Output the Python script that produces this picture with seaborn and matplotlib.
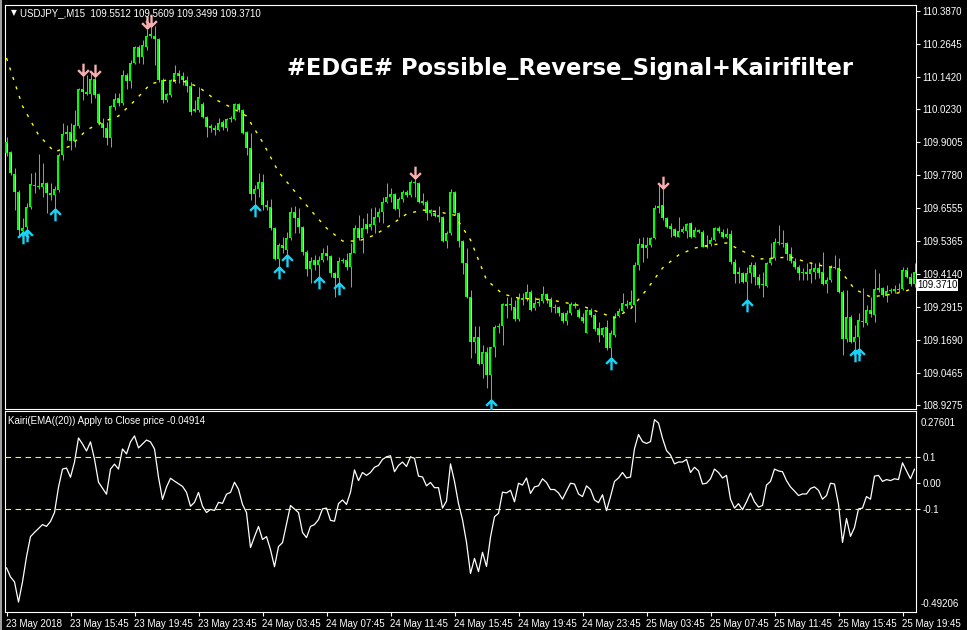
import matplotlib
matplotlib.use('Agg')
import matplotlib.pyplot as plt
from matplotlib.path import Path
from matplotlib.patches import Rectangle
import numpy as np
import pandas as pd
import seaborn as sb

sb.set_style('dark')
plt.rcParams['font.family'] = ['Liberation Sans', 'DejaVu Sans']
plt.rcParams['patch.force_edgecolor'] = False

# USDJPY M15 candles, 23 May 11:45 -> 25 May 20:30
opens = [109.902, 109.865, 109.783, 109.717, 109.572, 109.587, 109.661, 109.739, 109.735, 109.735,
         109.750, 109.713, 109.706, 109.724, 109.854, 109.931, 109.939, 109.905, 109.961, 110.098,
         110.080, 110.080, 110.135, 110.080, 109.972, 109.954, 109.917, 110.031, 110.065, 110.046,
         110.150, 110.128, 110.194, 110.254, 110.217, 110.254, 110.294, 110.294, 110.283, 110.131,
         110.057, 110.076, 110.124, 110.157, 110.146, 110.131, 110.109, 110.017, 110.020, 110.043,
         109.994, 109.961, 109.946, 109.946, 109.976, 109.954, 109.987, 109.987, 110.043, 110.020,
         109.939, 109.880, 109.709, 109.728, 109.754, 109.668, 109.661, 109.583, 109.468, 109.520,
         109.502, 109.546, 109.643, 109.620, 109.587, 109.494, 109.431, 109.465, 109.446, 109.465,
         109.491, 109.480, 109.417, 109.398, 109.461, 109.465, 109.439, 109.491, 109.583, 109.546,
         109.598, 109.587, 109.594, 109.624, 109.643, 109.680, 109.698, 109.709, 109.654, 109.691,
         109.717, 109.706, 109.750, 109.750, 109.683, 109.680, 109.639, 109.639, 109.631, 109.624,
         109.535, 109.565, 109.717, 109.639, 109.535, 109.454, 109.328, 109.161, 109.180, 109.080,
         109.124, 109.039, 109.143, 109.217, 109.220, 109.302, 109.298, 109.291, 109.246, 109.324,
         109.320, 109.346, 109.287, 109.306, 109.313, 109.339, 109.320, 109.291, 109.291, 109.269,
         109.239, 109.269, 109.302, 109.280, 109.254, 109.194, 109.280, 109.261, 109.213, 109.187,
         109.217, 109.139, 109.187, 109.257, 109.276, 109.302, 109.298, 109.298, 109.446, 109.524,
         109.509, 109.520, 109.546, 109.657, 109.668, 109.620, 109.591, 109.580, 109.550, 109.568,
         109.572, 109.602, 109.550, 109.576, 109.568, 109.513, 109.524, 109.539, 109.583, 109.568,
         109.550, 109.561, 109.457, 109.413, 109.417, 109.383, 109.417, 109.446, 109.402, 109.372,
         109.369, 109.454, 109.472, 109.531, 109.528, 109.528, 109.487, 109.461, 109.439, 109.417,
         109.420, 109.413, 109.420, 109.435, 109.420, 109.376, 109.391, 109.439, 109.435, 109.346,
         109.172, 109.254, 109.161, 109.180, 109.239, 109.232, 109.280, 109.261, 109.354, 109.361,
         109.332, 109.350, 109.350, 109.354, 109.357, 109.428, 109.402, 109.376]
highs = [109.920, 109.868, 109.806, 109.724, 109.620, 109.676, 109.787, 109.791, 109.857, 109.824,
         109.754, 109.750, 109.739, 109.861, 109.972, 109.965, 109.972, 110.020, 110.102, 110.150,
         110.150, 110.161, 110.146, 110.083, 109.991, 109.976, 110.039, 110.083, 110.083, 110.168,
         110.157, 110.206, 110.257, 110.261, 110.280, 110.324, 110.331, 110.331, 110.287, 110.139,
         110.083, 110.135, 110.187, 110.168, 110.161, 110.146, 110.124, 110.057, 110.106, 110.050,
         109.998, 109.968, 109.965, 109.991, 109.983, 109.991, 109.998, 110.046, 110.046, 110.024,
         109.943, 109.935, 109.743, 109.787, 109.783, 109.687, 109.691, 109.587, 109.528, 109.550,
         109.568, 109.661, 109.665, 109.657, 109.591, 109.502, 109.476, 109.483, 109.480, 109.509,
         109.520, 109.483, 109.420, 109.476, 109.472, 109.491, 109.528, 109.594, 109.631, 109.620,
         109.639, 109.657, 109.661, 109.657, 109.698, 109.750, 109.732, 109.713, 109.698, 109.724,
         109.724, 109.761, 109.769, 109.754, 109.713, 109.687, 109.654, 109.650, 109.665, 109.628,
         109.572, 109.728, 109.720, 109.643, 109.539, 109.509, 109.354, 109.220, 109.220, 109.150,
         109.143, 109.143, 109.224, 109.231, 109.306, 109.328, 109.328, 109.317, 109.343, 109.343,
         109.376, 109.354, 109.328, 109.324, 109.369, 109.343, 109.328, 109.302, 109.294, 109.272,
         109.280, 109.309, 109.309, 109.287, 109.269, 109.283, 109.287, 109.269, 109.235, 109.217,
         109.243, 109.206, 109.269, 109.287, 109.343, 109.317, 109.354, 109.457, 109.546, 109.550,
         109.550, 109.550, 109.668, 109.746, 109.732, 109.624, 109.602, 109.583, 109.624, 109.591,
         109.602, 109.606, 109.587, 109.580, 109.576, 109.557, 109.550, 109.587, 109.591, 109.580,
         109.583, 109.576, 109.468, 109.439, 109.420, 109.439, 109.457, 109.457, 109.413, 109.420,
         109.457, 109.528, 109.546, 109.594, 109.576, 109.531, 109.513, 109.472, 109.446, 109.435,
         109.454, 109.457, 109.454, 109.457, 109.494, 109.402, 109.446, 109.483, 109.472, 109.354,
         109.354, 109.261, 109.224, 109.269, 109.361, 109.298, 109.328, 109.431, 109.417, 109.365,
         109.372, 109.361, 109.372, 109.380, 109.439, 109.439, 109.417, 109.454]
lows = [109.850, 109.780, 109.650, 109.554, 109.568, 109.576, 109.654, 109.713, 109.728, 109.698,
        109.639, 109.687, 109.654, 109.717, 109.835, 109.909, 109.872, 109.883, 109.954, 110.057,
        110.076, 110.046, 110.065, 109.965, 109.920, 109.891, 109.883, 110.020, 110.035, 110.039,
        110.098, 110.102, 110.191, 110.194, 110.191, 110.243, 110.287, 110.187, 110.124, 110.046,
        110.050, 110.068, 110.120, 110.120, 110.113, 110.087, 110.002, 110.013, 110.013, 109.991,
        109.920, 109.939, 109.928, 109.943, 109.946, 109.943, 109.976, 109.983, 110.013, 109.931,
        109.854, 109.687, 109.668, 109.698, 109.650, 109.650, 109.576, 109.465, 109.439, 109.491,
        109.483, 109.539, 109.565, 109.565, 109.483, 109.406, 109.380, 109.428, 109.402, 109.457,
        109.465, 109.402, 109.328, 109.380, 109.454, 109.428, 109.365, 109.491, 109.539, 109.491,
        109.565, 109.576, 109.565, 109.606, 109.602, 109.676, 109.680, 109.650, 109.624, 109.680,
        109.698, 109.698, 109.698, 109.676, 109.668, 109.613, 109.628, 109.624, 109.606, 109.531,
        109.509, 109.557, 109.631, 109.513, 109.413, 109.324, 109.102, 109.120, 109.076, 109.028,
        108.991, 108.946, 109.106, 109.194, 109.150, 109.250, 109.280, 109.239, 109.239, 109.298,
        109.313, 109.276, 109.280, 109.294, 109.306, 109.306, 109.272, 109.269, 109.257, 109.232,
        109.224, 109.261, 109.287, 109.250, 109.232, 109.194, 109.254, 109.202, 109.161, 109.180,
        109.131, 109.102, 109.180, 109.254, 109.272, 109.287, 109.291, 109.235, 109.428, 109.457,
        109.472, 109.513, 109.543, 109.639, 109.613, 109.583, 109.550, 109.550, 109.550, 109.565,
        109.546, 109.546, 109.550, 109.565, 109.513, 109.509, 109.517, 109.535, 109.565, 109.546,
        109.546, 109.450, 109.380, 109.380, 109.380, 109.317, 109.380, 109.372, 109.361, 109.328,
        109.365, 109.446, 109.465, 109.520, 109.513, 109.465, 109.454, 109.431, 109.391, 109.391,
        109.391, 109.380, 109.394, 109.398, 109.372, 109.343, 109.383, 109.431, 109.343, 109.113,
        109.161, 109.157, 109.131, 109.135, 109.217, 109.224, 109.254, 109.235, 109.346, 109.328,
        109.309, 109.343, 109.343, 109.346, 109.354, 109.398, 109.369, 109.365]
closes = [109.861, 109.787, 109.717, 109.576, 109.583, 109.661, 109.746, 109.743, 109.735, 109.750,
          109.713, 109.706, 109.728, 109.854, 109.931, 109.939, 109.905, 109.965, 110.098, 110.087,
          110.087, 110.135, 110.076, 109.972, 109.954, 109.917, 110.035, 110.061, 110.046, 110.150,
          110.128, 110.194, 110.254, 110.217, 110.261, 110.294, 110.302, 110.283, 110.131, 110.057,
          110.080, 110.131, 110.157, 110.146, 110.131, 110.109, 110.013, 110.024, 110.068, 109.994,
          109.957, 109.954, 109.954, 109.972, 109.957, 109.987, 109.987, 110.043, 110.020, 109.935,
          109.880, 109.709, 109.728, 109.754, 109.668, 109.661, 109.583, 109.468, 109.520, 109.509,
          109.546, 109.643, 109.620, 109.587, 109.494, 109.431, 109.461, 109.446, 109.465, 109.491,
          109.480, 109.417, 109.398, 109.461, 109.465, 109.439, 109.491, 109.583, 109.546, 109.583,
          109.580, 109.598, 109.624, 109.643, 109.680, 109.698, 109.709, 109.654, 109.691, 109.717,
          109.706, 109.754, 109.754, 109.680, 109.676, 109.639, 109.650, 109.628, 109.624, 109.535,
          109.565, 109.717, 109.639, 109.535, 109.454, 109.328, 109.161, 109.180, 109.080, 109.124,
          109.039, 109.143, 109.217, 109.220, 109.302, 109.294, 109.298, 109.246, 109.324, 109.317,
          109.346, 109.280, 109.306, 109.309, 109.339, 109.320, 109.291, 109.287, 109.269, 109.239,
          109.269, 109.302, 109.294, 109.254, 109.239, 109.280, 109.261, 109.209, 109.187, 109.213,
          109.139, 109.194, 109.257, 109.276, 109.306, 109.294, 109.309, 109.446, 109.524, 109.509,
          109.520, 109.546, 109.657, 109.665, 109.620, 109.587, 109.580, 109.554, 109.572, 109.580,
          109.598, 109.550, 109.576, 109.568, 109.513, 109.520, 109.539, 109.583, 109.572, 109.550,
          109.561, 109.457, 109.413, 109.420, 109.383, 109.417, 109.446, 109.402, 109.372, 109.372,
          109.454, 109.472, 109.531, 109.528, 109.524, 109.487, 109.461, 109.439, 109.417, 109.420,
          109.413, 109.431, 109.435, 109.417, 109.376, 109.391, 109.439, 109.435, 109.346, 109.172,
          109.254, 109.161, 109.180, 109.243, 109.235, 109.280, 109.265, 109.357, 109.361, 109.335,
          109.350, 109.350, 109.357, 109.357, 109.428, 109.402, 109.376, 109.420]

# EMA(20), read every 4th bar
ema_idx = list(range(0, 225, 4)) + [227]
ema_vals = [110.213, 110.035, 109.928, 109.865, 109.887, 109.946, 109.976, 109.998, 110.054, 110.117,
            110.131, 110.128, 110.106, 110.061, 110.031, 109.998, 109.902, 109.791, 109.720, 109.650,
            109.583, 109.535, 109.535, 109.557, 109.594, 109.635, 109.650, 109.643, 109.631, 109.539,
            109.391, 109.339, 109.324, 109.320, 109.317, 109.306, 109.294, 109.272, 109.250, 109.283,
            109.354, 109.435, 109.483, 109.509, 109.520, 109.528, 109.498, 109.468, 109.472, 109.476,
            109.457, 109.443, 109.435, 109.357, 109.328, 109.335, 109.346, 109.361]

# Kairi (deviation from EMA, %)
kairi_idx = [0, 1, 2, 3, 4, 5, 6, 7, 9, 10, 11, 12, 13, 14, 15, 16, 17, 18, 19, 20,
             21, 22, 23, 25, 26, 27, 28, 29, 30, 31, 32, 33, 34, 35, 36, 37, 38, 39, 40, 41,
             42, 44, 45, 46, 47, 48, 49, 50, 51, 52, 53, 54, 55, 56, 57, 58, 59, 60, 61, 62,
             63, 64, 65, 66, 67, 68, 69, 71, 73, 74, 75, 76, 77] + list(range(78, 228))
kairi_vals = [-0.323, -0.358, -0.377, -0.454, -0.377, -0.281, -0.204, -0.188, -0.158, -0.165,
              -0.146, -0.112, -0.015, 0.054, 0.058, 0.023, 0.081, 0.173, 0.150, 0.123,
              0.158, 0.092, 0.004, -0.042, 0.054, 0.073, 0.054, 0.131, 0.112, 0.158,
              0.181, 0.135, 0.150, 0.165, 0.158, 0.131, 0.023, -0.062, -0.015, 0.019,
              0.008, -0.012, -0.035, -0.088, -0.073, -0.035, -0.088, -0.112, -0.100, -0.104,
              -0.073, -0.077, -0.042, -0.035, 0.004, -0.023, -0.081, -0.112, -0.246, -0.204,
              -0.165, -0.215, -0.204, -0.254, -0.319, -0.242, -0.227, -0.085, -0.112, -0.188,
              -0.208, -0.165, -0.158,
              -0.139, -0.098, -0.095, -0.142, -0.145, -0.078, -0.064, -0.081, -0.034, 0.051,
              0.010, 0.041, 0.030, 0.041, 0.061, 0.068, 0.091, 0.101, 0.105, 0.044,
              0.068, 0.081, 0.064, 0.101, 0.095, 0.027, 0.024, -0.010, 0.003, -0.017,
              -0.017, -0.095, -0.068, 0.074, 0.007, -0.078, -0.139, -0.226, -0.345, -0.287,
              -0.338, -0.264, -0.318, -0.206, -0.128, -0.115, -0.034, -0.037, -0.027, -0.071,
              0.000, -0.007, 0.020, -0.039, -0.014, -0.010, 0.017, 0.003, -0.024, -0.024,
              -0.037, -0.061, -0.030, 0.000, -0.003, -0.041, -0.051, -0.010, -0.024, -0.064,
              -0.074, -0.044, -0.105, -0.051, 0.007, 0.020, 0.041, 0.020, 0.024, 0.132,
              0.186, 0.159, 0.152, 0.159, 0.243, 0.230, 0.172, 0.125, 0.108, 0.074,
              0.081, 0.081, 0.091, 0.041, 0.061, 0.047, -0.003, 0.000, 0.017, 0.054,
              0.041, 0.020, 0.030, -0.061, -0.095, -0.078, -0.101, -0.071, -0.037, -0.071,
              -0.091, -0.085, -0.007, 0.007, 0.054, 0.047, 0.044, 0.010, -0.014, -0.030,
              -0.047, -0.041, -0.041, -0.020, -0.014, -0.027, -0.061, -0.047, 0.000, -0.003,
              -0.081, -0.226, -0.135, -0.203, -0.169, -0.098, -0.095, -0.051, -0.061, 0.027,
              0.030, 0.007, 0.014, 0.010, 0.017, 0.014, 0.078, 0.047, 0.017, 0.054]

buy_signals = [4, 5, 12, 62, 68, 70, 78, 83, 121, 151, 185, 212, 213]
sell_signals = [19, 22, 35, 36, 102, 164]

price_ticks = [110.3870, 110.2645, 110.1420, 110.0230, 109.9005, 109.7780, 109.6555,
               109.5365, 109.4140, 109.2915, 109.1690, 109.0465, 108.9275]
time_idx = list(range(0, 225, 16))
time_labels = ['23 May 2018', '23 May 15:45', '23 May 19:45', '23 May 23:45', '24 May 03:45',
               '24 May 07:45', '24 May 11:45', '24 May 15:45', '24 May 19:45', '24 May 23:45',
               '25 May 03:45', '25 May 07:45', '25 May 11:45', '25 May 15:45', '25 May 19:45']

LIME = '#00ff00'
W, H = 967, 630


def box(x0, y0, x1, y1):
    return [x0 / W, 1 - y1 / H, (x1 - x0) / W, (y1 - y0) / H]


fig = plt.figure(figsize=(W / 100, H / 100), dpi=100, facecolor='black')
ax = fig.add_axes(box(4.5, 5, 915.5, 409))
ax2 = fig.add_axes(box(4.5, 411, 915.5, 612))
fig.patches.append(Rectangle((0, 0), 2 / W, 1, transform=fig.transFigure,
                             facecolor='#a0a0a0', edgecolor='none'))

for a in (ax, ax2):
    a.set_facecolor('black')
    a.grid(False)
    for s in a.spines.values():
        s.set_color('white')
        s.set_linewidth(0.8)
    a.set_xlim(-0.5, 227.25)

ymin, ymax = 108.9129, 110.4092
px = (ymax - ymin) / 404.0   # one screen pixel in price units

# candles: lime body, thin centre line (white = bear, black = bull)
o = np.array(opens)
c = np.array(closes)
x = np.arange(len(c))
body_lo = np.minimum(o, c)
body_h = np.maximum(np.abs(c - o), px)
ax.vlines(x, lows, highs, color=LIME, lw=0.72, zorder=2)
ax.bar(x, body_h, bottom=body_lo, width=0.75, color=LIME, edgecolor='none',
       linewidth=0, zorder=3)
inner = body_h > 2.5 * px
fills = np.where(c >= o, 'black', 'white')
ax.vlines(x[inner], body_lo[inner] + px, body_lo[inner] + body_h[inner] - px,
          colors=list(fills[inner]), lw=0.6, zorder=4)

# EMA dotted
ema_df = pd.DataFrame({'bar': ema_idx, 'ema': ema_vals})
sb.lineplot(data=ema_df, x='bar', y='ema', ax=ax, color='#ffff00', lw=1, zorder=5)
ax.lines[-1].set_linestyle((0, (2.2, 5)))

# signal arrows
up = Path([(0, 0), (0, -2.2), (-1, -1), (0, 0), (1, -1)],
          [Path.MOVETO, Path.LINETO, Path.MOVETO, Path.LINETO, Path.LINETO])
down = Path([(0, 0), (0, 2.2), (-1, 1), (0, 0), (1, 1)],
            [Path.MOVETO, Path.LINETO, Path.MOVETO, Path.LINETO, Path.LINETO])
ax.plot(buy_signals, [lows[i] for i in buy_signals], ls='none', marker=up, ms=17,
        mfc='none', mec='#19d3f5', mew=1.7, zorder=6)
ax.plot(sell_signals, [highs[i] for i in sell_signals], ls='none', marker=down, ms=17,
        mfc='none', mec='#f7b0b0', mew=1.7, zorder=6)

ax.set_ylim(ymin, ymax)
ax.set_xticks([])
ax.set_xlabel('')
ax.set_ylabel('')
ax.yaxis.tick_right()
ax.set_yticks(price_ticks)
ax.set_yticklabels(['%.4f' % p for p in price_ticks])
ax.tick_params(axis='y', colors='white', labelcolor='white', labelsize=7, length=3,
               width=0.8, pad=2, right=True, left=False)
ax.text(1.0015, 109.3710, '109.3710', transform=ax.get_yaxis_transform(), ha='left',
        va='center', fontsize=7, color='black',
        bbox=dict(facecolor='white', edgecolor='none', pad=0.8))

# headers and title
fig.text(11 / W, 1 - 13 / H, '\u25bc', color='white', fontsize=5.5, va='center',
         family=['DejaVu Sans'])
fig.text(20 / W, 1 - 13 / H, 'USDJPY_,M15  109.5512 109.5609 109.3499 109.3710',
         color='white', fontsize=7, va='center')
fig.text(287 / W, 1 - 68 / H, '#EDGE# Possible_Reverse_Signal+Kairifilter', color='white',
         fontsize=16.3, fontweight='bold', va='center', family=['DejaVu Sans'])

# Kairi panel
k_df = pd.DataFrame({'bar': kairi_idx, 'kairi': kairi_vals})
sb.lineplot(data=k_df, x='bar', y='kairi', ax=ax2, color='white', lw=0.9)
for lv in (0.1, -0.1):
    ax2.axhline(lv, color='#ffff00', lw=0.8, ls=(0, (5, 4)))
ax2.set_ylim(-0.49206, 0.27601)
ax2.set_xlabel('')
ax2.set_ylabel('')
ax2.yaxis.tick_right()
ax2.set_yticks([0.1, 0.0, -0.1])
ax2.set_yticklabels(['0.1', '0.00', '-0.1'])
ax2.tick_params(axis='y', colors='white', labelcolor='white', labelsize=7, length=3,
                width=0.8, pad=2, right=True, left=False)
ax2.set_xticks(time_idx)
ax2.set_xticklabels(time_labels)
ax2.tick_params(axis='x', colors='white', labelcolor='white', labelsize=7, length=3,
                width=0.8, pad=2, bottom=True)
for lab in ax2.get_xticklabels():
    lab.set_ha('left')
ax2.text(1.006, 0.965, '0.27601', transform=ax2.transAxes, color='white', fontsize=7,
         ha='left', va='top')
ax2.text(1.006, 0.015, '-0.49206', transform=ax2.transAxes, color='white', fontsize=7,
         ha='left', va='bottom')
ax2.text(0.004, 0.95, 'Kairi(EMA((20)) Apply to Close price -0.04914', transform=ax2.transAxes,
         color='white', fontsize=7, ha='left', va='center')

fig.savefig('out.png', dpi=100, facecolor='black')
